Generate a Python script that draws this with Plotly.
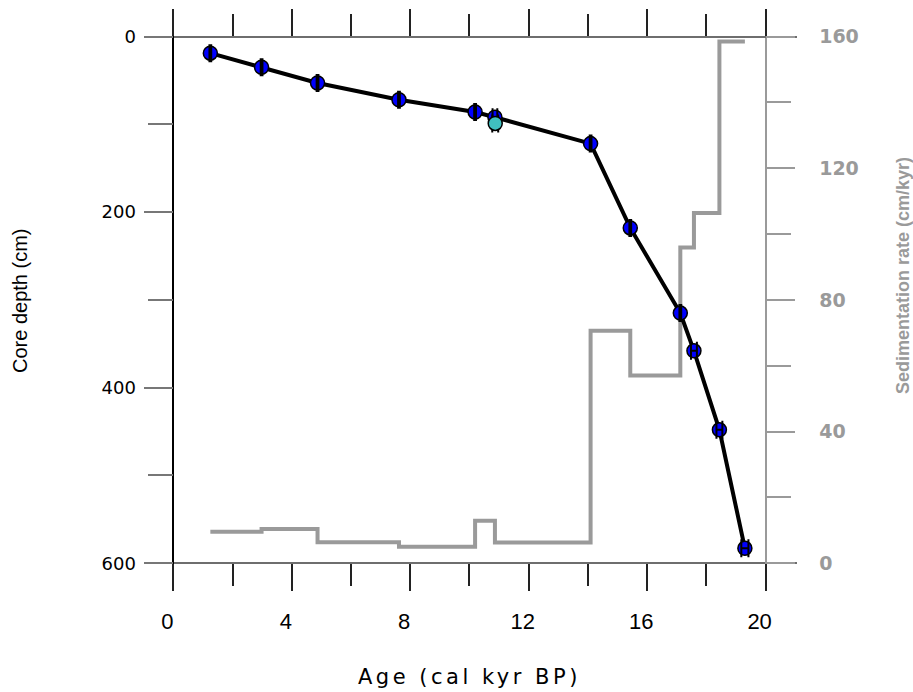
import plotly.graph_objects as go

# ---------------- data ----------------
ages = [1.25, 2.98, 4.87, 7.62, 10.19, 10.86, 14.09, 15.43, 17.12, 17.58, 18.44, 19.30]
depths = [19, 35, 53, 72, 86, 92, 122, 218, 315, 358, 448, 583]
age_err = [0.03, 0.03, 0.03, 0.03, 0.03, 0.08, 0.03, 0.03, 0.03, 0.10, 0.10, 0.12]

cyan_age = [10.87]
cyan_depth = [99]
cyan_err = [0.10]

# sedimentation rate (cm/kyr) for each interval between consecutive ages
rates = [9.6, 10.4, 6.4, 5.0, 12.9, 6.3, 70.6, 57.0, 95.9, 106.4, 158.5]

x_ticks = [0, 4, 8, 12, 16, 20]
depth_ticks = [0, 200, 400, 600]
rate_ticks = [0, 40, 80, 120, 160]

# ---------------- layout constants ----------------
X_RANGE = [-0.99, 21.06]
DEPTH_RANGE = [629.3, -30.2]   # reversed (depth grows downward)
DEPTH_MAX = 600
RATE_MAX = 160                  # rate 160 aligned with depth 0, rate 0 with depth 600
rate_lo = (DEPTH_MAX - DEPTH_RANGE[0]) * RATE_MAX / DEPTH_MAX
rate_hi = (DEPTH_MAX - DEPTH_RANGE[1]) * RATE_MAX / DEPTH_MAX

def ypos(d):
    return (DEPTH_RANGE[0] - d) / (DEPTH_RANGE[0] - DEPTH_RANGE[1])

def xpos(a):
    return (a - X_RANGE[0]) / (X_RANGE[1] - X_RANGE[0])

GRAY = "#9a9a9a"

fig = go.Figure()

# sedimentation rate step line (base subplot: x / y)
fig.add_trace(go.Scatter(
    x=ages, y=rates + [rates[-1]], mode="lines",
    line=dict(color=GRAY, width=4, shape="hv"),
    xaxis="x", yaxis="y", hoverinfo="skip"))

# age-depth line (overlay subplot: x2 / y2)
fig.add_trace(go.Scatter(
    x=ages, y=depths, mode="lines",
    line=dict(color="black", width=4),
    xaxis="x2", yaxis="y2"))

fig.add_trace(go.Scatter(
    x=ages, y=depths, mode="markers",
    marker=dict(size=14, color="#0000ff", line=dict(color="black", width=1.5)),
    xaxis="x2", yaxis="y2"))

fig.add_trace(go.Scatter(
    x=ages, y=depths, mode="markers",
    marker=dict(size=1, color="rgba(0,0,0,0)"),
    error_x=dict(type="data", array=age_err, color="black", thickness=2, width=9),
    xaxis="x2", yaxis="y2"))

fig.add_trace(go.Scatter(
    x=cyan_age, y=cyan_depth, mode="markers",
    marker=dict(size=14, color="#40c0c0", line=dict(color="black", width=1.5)),
    error_x=dict(type="data", array=cyan_err, color="black", thickness=2, width=9),
    xaxis="x2", yaxis="y2"))

xtick_common = dict(
    range=X_RANGE, anchor="free", showline=True, linecolor="#6e6e6e", linewidth=1.5,
    ticks="outside", ticklen=27, tickwidth=1.5, tickcolor="#222",
    tickvals=x_ticks,
    minor=dict(ticks="outside", dtick=2, tick0=0, ticklen=22, tickwidth=1.5,
               tickcolor="#222", showgrid=False),
    showgrid=False, zeroline=False,
)

fig.update_layout(
    width=913, height=692,
    margin=dict(l=144, r=116, t=10, b=103),
    plot_bgcolor="white", paper_bgcolor="white",
    showlegend=False,
    xaxis=dict(**xtick_common, position=ypos(DEPTH_MAX), side="bottom",
               tickfont=dict(family="Liberation Sans, Arial", size=22, color="black"),
               ticklabelstandoff=12, ticklabelshift=-6),
    xaxis2=dict(**xtick_common, position=ypos(0), side="top", overlaying="x",
                showticklabels=False),
    yaxis=dict(range=[rate_lo, rate_hi], anchor="free", position=xpos(20), side="right",
               showline=True, linecolor=GRAY, linewidth=1.5,
               ticks="outside", ticklen=29, tickwidth=1.5, tickcolor=GRAY,
               tickvals=rate_ticks,
               minor=dict(ticks="outside", dtick=20, tick0=0, ticklen=25, tickwidth=1.5,
                          tickcolor=GRAY, showgrid=False),
               showgrid=False, zeroline=False,
               tickfont=dict(family="DejaVu Sans", size=19, color=GRAY, weight="bold"),
               ticklabelstandoff=20),
    yaxis2=dict(range=DEPTH_RANGE, anchor="free", position=xpos(0), side="left",
                overlaying="y",
                showline=True, linecolor="black", linewidth=1.5,
                ticks="outside", ticklen=29, tickwidth=2, tickcolor="#777",
                tickvals=depth_ticks,
                minor=dict(ticks="outside", dtick=100, tick0=0, ticklen=25, tickwidth=2,
                           tickcolor="#777", showgrid=False),
                showgrid=False, zeroline=False,
                tickfont=dict(family="DejaVu Sans", size=18, color="black"),
                ticklabelstandoff=4),
    annotations=[
        dict(text="Core depth (cm)", xref="paper", yref="paper", x=-0.19, y=0.499,
             textangle=-90, showarrow=False, xanchor="center", yanchor="middle",
             font=dict(family="Liberation Sans, Arial", size=20, color="black")),
        dict(text="Sedimentation rate (cm/kyr)", xref="paper", yref="paper", x=1.162, y=0.542,
             textangle=-90, showarrow=False, xanchor="center", yanchor="middle",
             font=dict(family="Liberation Sans, Arial", size=18, color=GRAY, weight="bold")),
        dict(text='<span style="letter-spacing:3.5px">Age (cal kyr BP)</span>',
             xref="paper", yref="paper", x=0.499, y=-0.152,
             showarrow=False, xanchor="center", yanchor="middle",
             font=dict(family="DejaVu Sans", size=21, color="black")),
    ],
)

fig.write_html("out.html")
